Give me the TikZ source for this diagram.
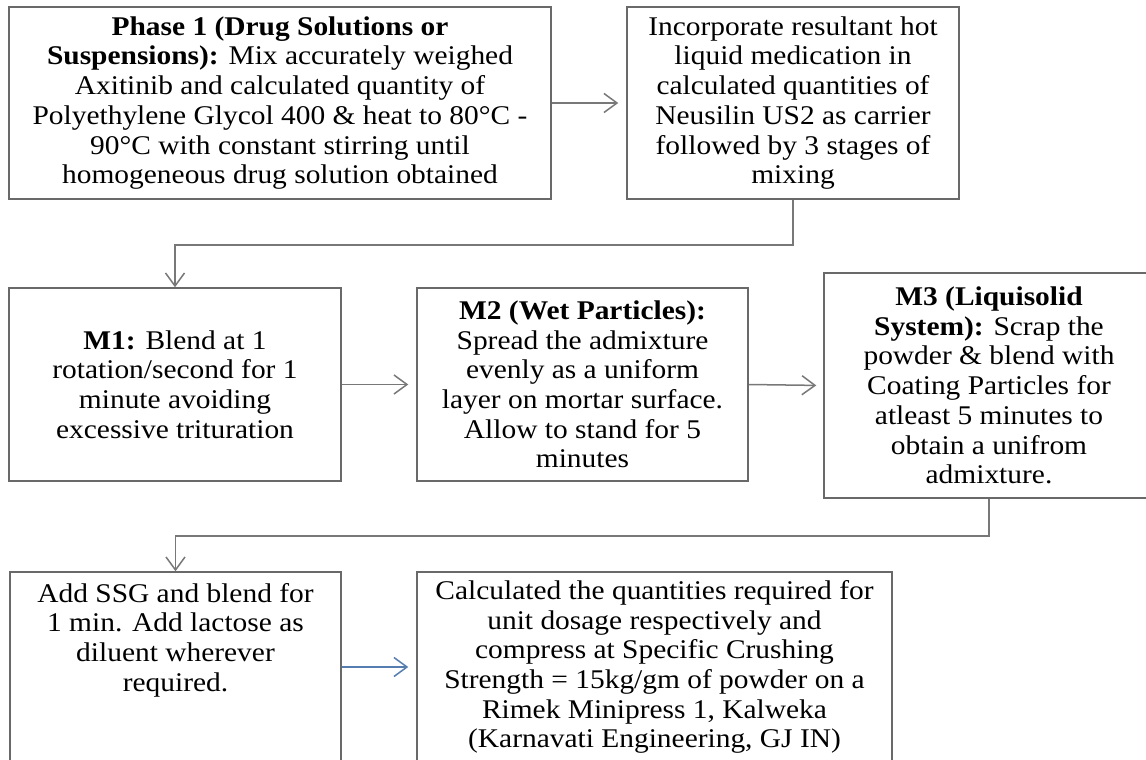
\documentclass[tikz,border=0pt]{standalone}
\usepackage{fontspec}
\setmainfont{Liberation Serif}[FakeStretch=1.09]
\usetikzlibrary{arrows.meta}
\definecolor{boxgray}{RGB}{105,105,105}
\definecolor{linegray}{RGB}{120,120,120}
\definecolor{bluearr}{RGB}{85,125,175}
\newcommand{\mainfnt}{\fontsize{27}{29.7}\selectfont}
\begin{document}
\begin{tikzpicture}[x=1pt,y=-1pt,
  box/.style={draw=boxgray, line width=1.5pt, inner sep=0pt, align=center, font=\mainfnt},
  txt/.style={inner sep=0pt, align=center, font=\mainfnt},
  arr/.style={draw=linegray, line width=1.5pt, -{Straight Barb[length=13pt,width=19pt]}}
]
\useasboundingbox[fill=white] (0,0) rectangle (1146,760);

\node[box, minimum width=542pt, minimum height=192pt] (b1) at (280,103)
 {\textbf{Phase 1 (Drug Solutions or}\\
  \textbf{Suspensions):} Mix accurately weighed\\
  Axitinib and calculated quantity of\\
  Polyethylene Glycol 400 \& heat to 80°C -\\
  90°C with constant stirring until\\
  homogeneous drug solution obtained};

\node[box, minimum width=332pt, minimum height=192pt] (b2) at (793,103)
 {Incorporate resultant hot\\
  liquid medication in\\
  calculated quantities of\\
  Neusilin US2 as carrier\\
  followed by 3 stages of\\
  mixing};

\node[box, minimum width=332pt, minimum height=193pt] (m1) at (175,384.5)
 {\textbf{M1:} Blend at 1\\
  rotation/second for 1\\
  minute avoiding\\
  excessive trituration};

\node[box, minimum width=331pt, minimum height=193pt] (m2) at (582.5,384.5)
 {\textbf{M2 (Wet Particles):}\\
  Spread the admixture\\
  evenly as a uniform\\
  layer on mortar surface.\\
  Allow to stand for 5\\
  minutes};

\node[box, minimum width=330pt, minimum height=225pt] (m3) at (989,385.5)
 {\textbf{M3 (Liquisolid}\\
  \textbf{System):} Scrap the\\
  powder \& blend with\\
  Coating Particles for\\
  atleast 5 minutes to\\
  obtain a unifrom\\
  admixture.};

\node[box, minimum width=331pt, minimum height=190pt] (b4) at (175.5,667) {};
\node[txt] (b4t) at (175.5,640)
 {Add SSG and blend for\\
  1 min. Add lactose as\\
  diluent wherever\\
  required.};

\node[box, minimum width=475pt, minimum height=190pt] (b5) at (654.5,667)
 {Calculated the quantities required for\\
  unit dosage respectively and\\
  compress at Specific Crushing\\
  Strength = 15kg/gm of powder on a\\
  Rimek Minipress 1, Kalweka\\
  (Karnavati Engineering, GJ IN)};

\draw[arr, shorten >=8pt] (b1.east) -- (b2.west);
\draw[arr] (b2.south) -- ++(0,45) -| (m1.north);
\draw[arr, shorten >=8pt] (m1.east) -- (m2.west);
\draw[arr, shorten >=7pt] (m2.east) -- (m3.west);
\draw[arr] (m3.south) -- ++(0,37) -| (b4.north);
\draw[arr, draw=bluearr, shorten >=8pt] (b4.east) -- (b5.west);
\end{tikzpicture}
\end{document}
